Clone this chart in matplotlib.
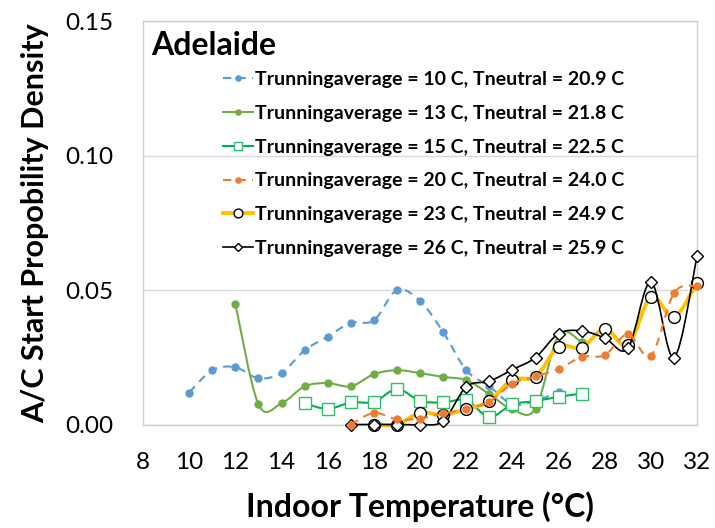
import numpy as np
import matplotlib
matplotlib.use("Agg")
import matplotlib.pyplot as plt
from matplotlib.path import Path
from matplotlib.patches import PathPatch
from matplotlib.lines import Line2D

plt.rcParams["font.family"] = ["Lato", "DejaVu Sans"]

# A/C start probability density vs indoor temperature, Adelaide
t_10 = [10, 11, 12, 13, 14, 15, 16, 17, 18, 19, 20, 21, 22, 23, 24, 25, 26]
p_10 = [0.0119, 0.0202, 0.0213, 0.0172, 0.0192, 0.0276, 0.0327, 0.0378, 0.0387,
        0.0500, 0.0459, 0.0344, 0.0202, 0.0142, 0.0075, 0.0088, 0.0121]

t_13 = [12, 13, 14, 15, 16, 17, 18, 19, 20, 21, 22, 23, 24, 25, 26, 27]
p_13 = [0.0448, 0.0075, 0.0079, 0.0142, 0.0154, 0.0142, 0.0187, 0.0202,
        0.0191, 0.0177, 0.0165, 0.0113, 0.0056, 0.0059, 0.0332, 0.0306]

t_15 = [15, 16, 17, 18, 19, 20, 21, 22, 23, 24, 25, 26, 27]
p_15 = [0.0079, 0.0058, 0.0082, 0.0084, 0.0132, 0.0088, 0.0082, 0.0090,
        0.0028, 0.0075, 0.0087, 0.0103, 0.0115]

t_20 = [17, 18, 19, 20, 21, 22, 23, 24, 25, 26, 27, 28, 29, 30, 31, 32]
p_20 = [0.0, 0.0043, 0.0019, 0.0022, 0.0041, 0.0058, 0.0085, 0.0152, 0.0179,
        0.0206, 0.0251, 0.0258, 0.0335, 0.0255, 0.0489, 0.0515]

t_23 = [18, 19, 20, 21, 22, 23, 24, 25, 26, 27, 28, 29, 30, 31, 32]
p_23 = [0.0, 0.0, 0.0043, 0.0037, 0.0057, 0.0087, 0.0167, 0.0177, 0.0289,
        0.0285, 0.0357, 0.0295, 0.0474, 0.0400, 0.0528]

t_26 = [17, 18, 19, 20, 21, 22, 23, 24, 25, 26, 27, 28, 29, 30, 31, 32]
p_26 = [0.0, 0.0, 0.0, 0.0, 0.0013, 0.0140, 0.0161, 0.0204, 0.0249, 0.0338,
        0.0348, 0.0322, 0.0283, 0.0530, 0.0249, 0.0627]

labels = [
    "Trunningaverage = 10 C, Tneutral = 20.9 C",
    "Trunningaverage = 13 C, Tneutral = 21.8 C",
    "Trunningaverage = 15 C, Tneutral = 22.5 C",
    "Trunningaverage = 20 C, Tneutral = 24.0 C",
    "Trunningaverage = 23 C, Tneutral = 24.9 C",
    "Trunningaverage = 26 C, Tneutral = 25.9 C",
]


def smooth_path(x, y):
    # Catmull-Rom style cubic bezier through the points (like Excel smoothed lines)
    pts = np.column_stack([x, y]).astype(float)
    n = len(pts)
    verts = [pts[0]]
    codes = [Path.MOVETO]
    for i in range(n - 1):
        p0 = pts[max(i - 1, 0)]
        p1 = pts[i]
        p2 = pts[i + 1]
        p3 = pts[min(i + 2, n - 1)]
        verts += [p1 + (p2 - p0) / 6, p2 - (p3 - p1) / 6, p2]
        codes += [Path.CURVE4] * 3
    return Path(verts, codes)


series = [
    # x, y, colour, line style, width, marker, marker size, face, edge, zorder
    (t_10, p_10, "#5B9BD5", (0, (4, 3)), 1.5, "o", 5, "#5B9BD5", "#5B9BD5", 2),
    (t_13, p_13, "#70AD47", "-", 1.5, "o", 5, "#70AD47", "#70AD47", 3),
    (t_15, p_15, "#00B050", "-", 1.5, "s", 8, "white", "#2FBF6A", 4),
    (t_23, p_23, "#FFC000", "-", 2.8, "o", 8.5, "white", "black", 5),
    (t_26, p_26, "black", "-", 1.2, "D", 6, "white", "black", 6),
    (t_20, p_20, "#ED7D31", (0, (4, 3)), 1.5, "o", 5, "#ED7D31", "#ED7D31", 7),
]

fig = plt.figure(figsize=(7.15, 5.28), dpi=100)
ax = fig.add_axes([0.2, 0.196, 0.775, 0.764])

for x, y, c, ls, lw, mk, ms, fc, ec, z in series:
    ax.add_patch(PathPatch(smooth_path(x, y), facecolor="none", edgecolor=c,
                           linewidth=lw, linestyle=ls, zorder=z, clip_on=False))
    ax.plot(x, y, linestyle="none", marker=mk, markersize=ms,
            markerfacecolor=fc, markeredgecolor=ec, markeredgewidth=1.0,
            zorder=z + 0.5, clip_on=False)

# legend in the original series order
order = [0, 1, 2, 5, 3, 4]
handles = []
for i in order:
    x, y, c, ls, lw, mk, ms, fc, ec, z = series[i]
    handles.append(Line2D([], [], color=c, linestyle=ls, linewidth=lw,
                          marker=mk, markersize=ms * 0.75,
                          markerfacecolor=fc, markeredgecolor=ec))
leg = ax.legend(handles, labels, loc="upper left", bbox_to_anchor=(0.13, 0.895),
                frameon=False, prop={"weight": "bold", "size": 14},
                handlelength=1.55, handletextpad=0.1, labelspacing=0.86,
                borderaxespad=0)

ax.text(0.015, 0.975, "Adelaide", transform=ax.transAxes, fontsize=23,
        fontweight="bold", va="top", ha="left")

ax.set_xlim(8, 32)
ax.set_ylim(0, 0.15)
ax.set_xticks(range(8, 33, 2))
ax.set_yticks([0.0, 0.05, 0.10, 0.15])
ax.set_yticklabels(["0.00", "0.05", "0.10", "0.15"])
ax.tick_params(axis="both", length=0, labelsize=17.5)
ax.tick_params(axis="y", pad=21)
ax.tick_params(axis="x", pad=20)

ax.grid(axis="y", color="#D9D9D9", linewidth=1.0)
ax.set_axisbelow(True)
for s in ax.spines.values():
    s.set_color("#D0D0D0")
    s.set_linewidth(1.0)

ax.set_xlabel("Indoor Temperature (°C)", fontsize=23, fontweight="bold",
              labelpad=13)
ax.set_ylabel("A/C Start Propobility Density", fontsize=22, fontweight="bold",
              labelpad=12)

fig.savefig("out.png", dpi=100)
